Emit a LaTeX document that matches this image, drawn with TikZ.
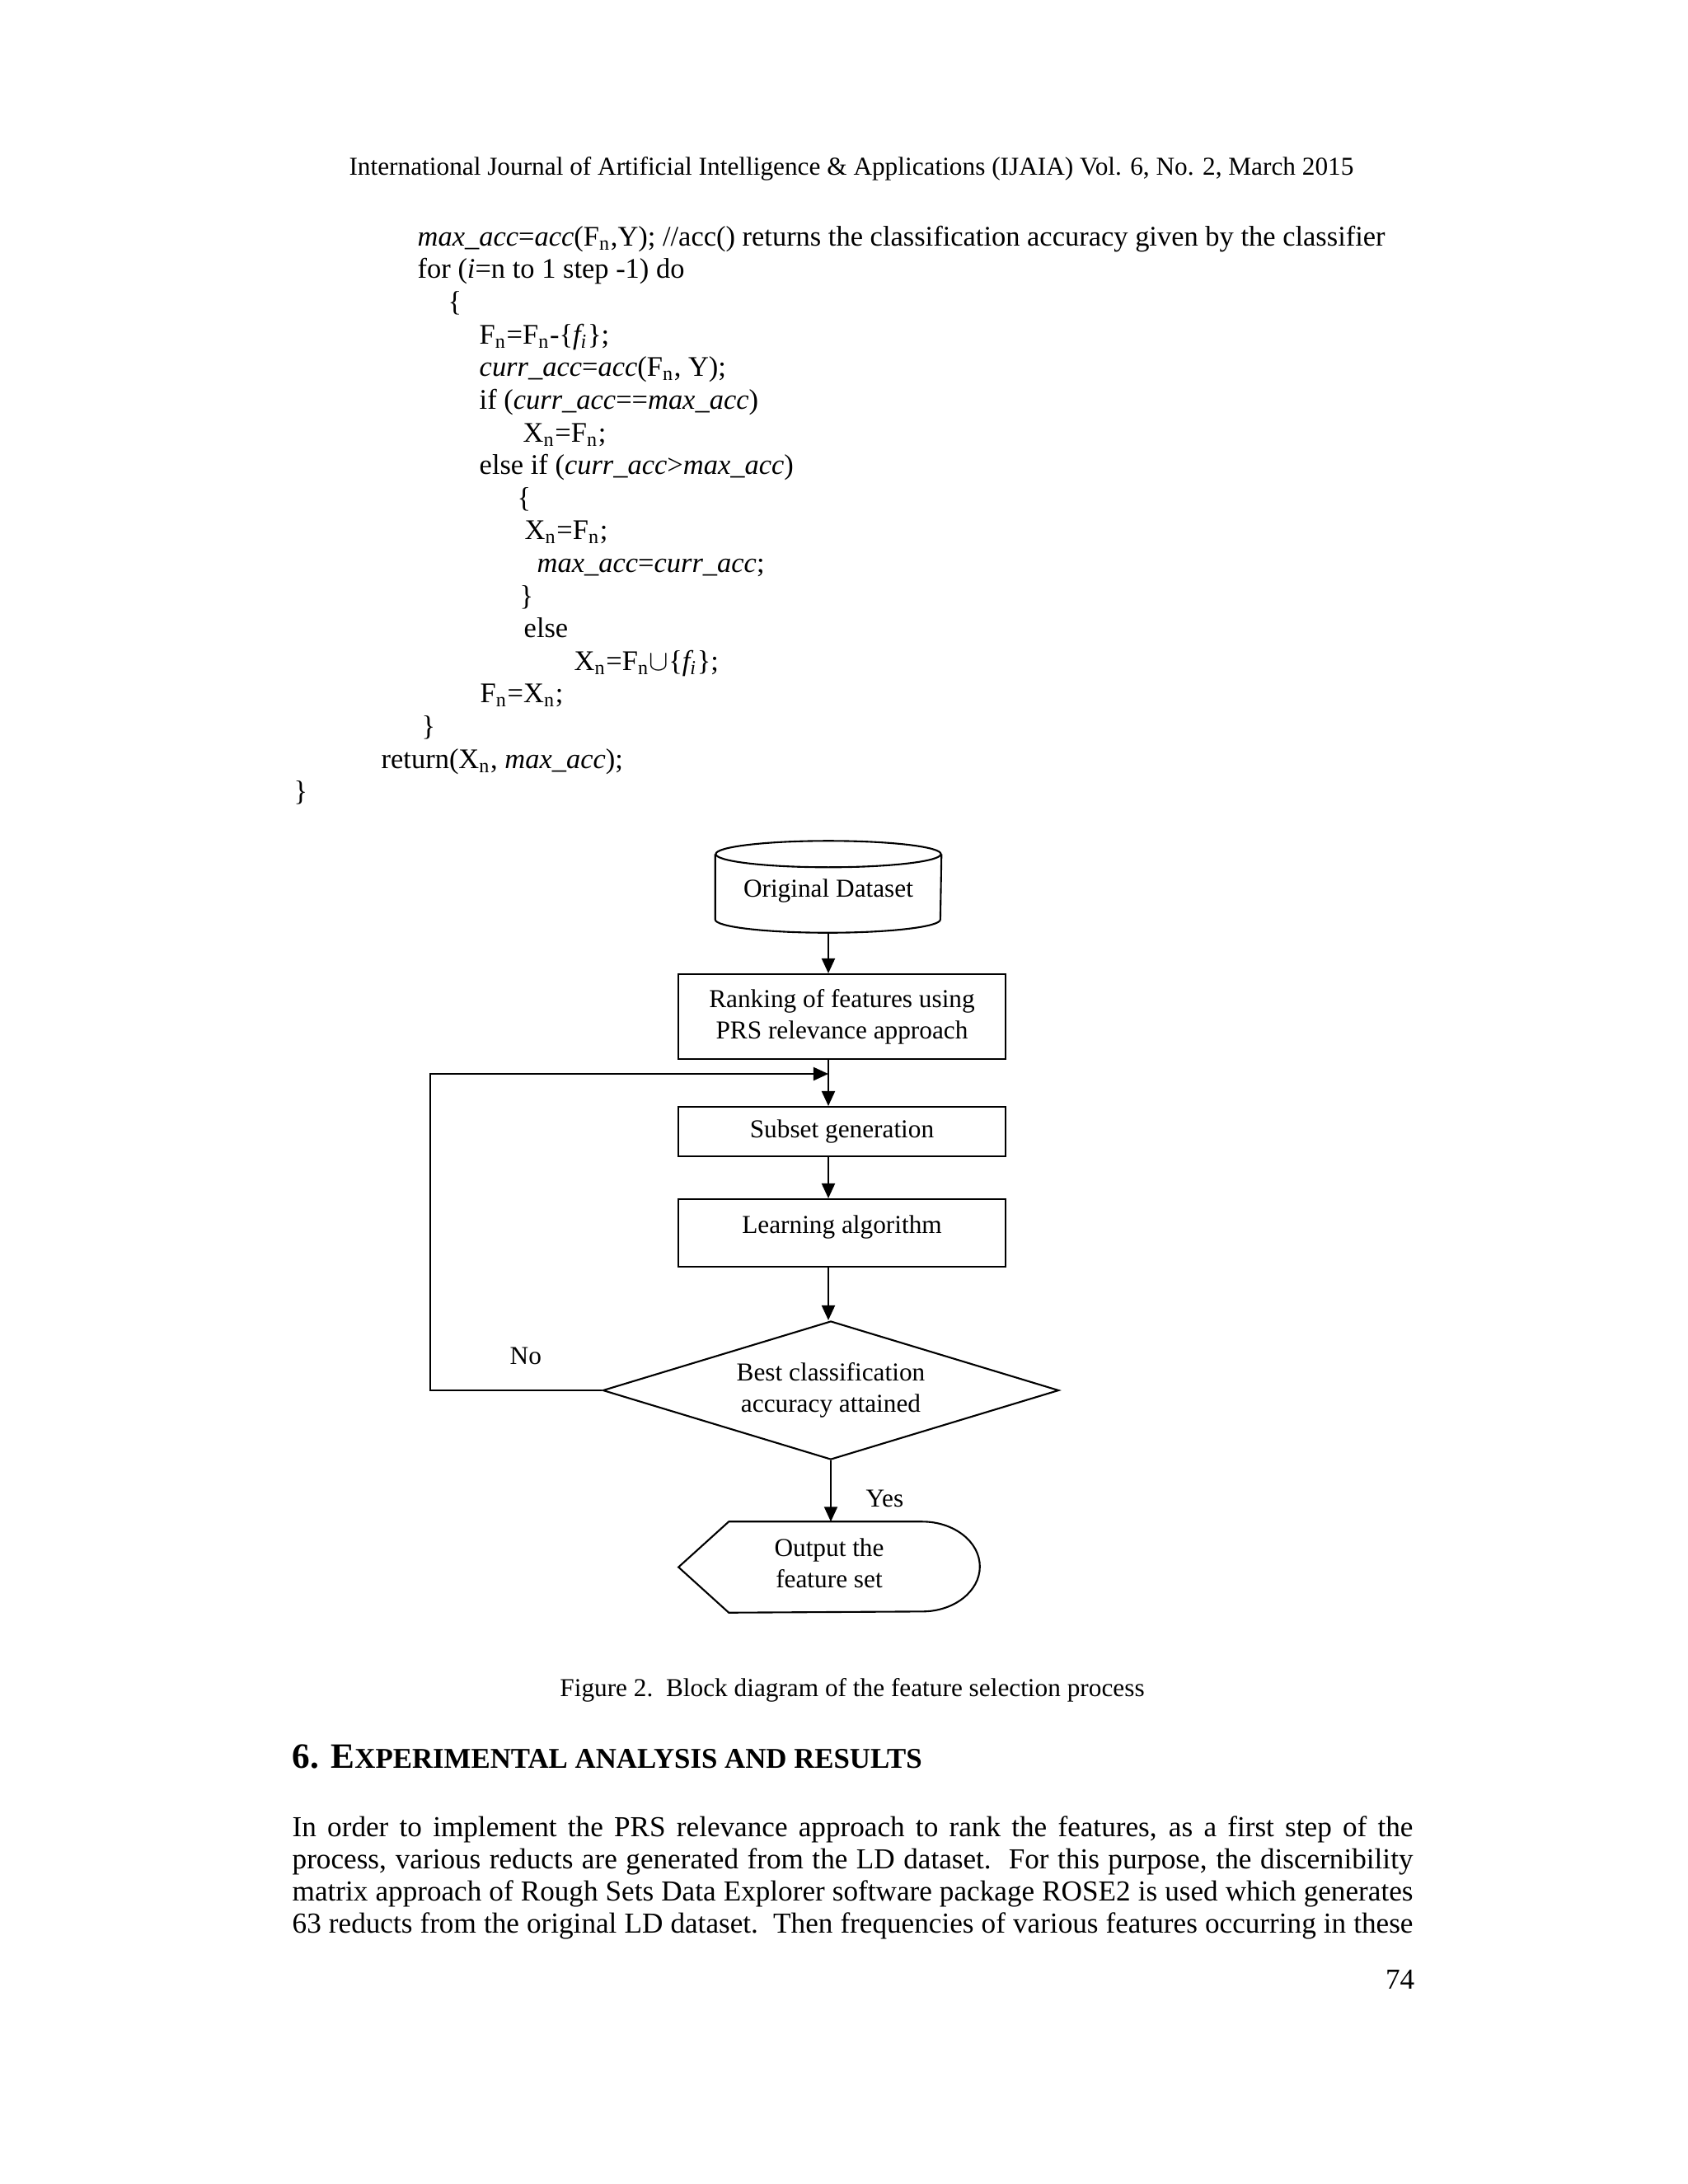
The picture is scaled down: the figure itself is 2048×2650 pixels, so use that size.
\documentclass[tikz,border=0pt]{standalone}
\usepackage{fontspec}
\setmainfont{Liberation Serif}
\usetikzlibrary{shapes.geometric,arrows.meta,positioning}

\newcommand{\flowfont}{\fontsize{8.9}{10.7}\selectfont}
\newcommand{\codefont}{\fontsize{9.8}{11}\selectfont}
\newcommand{\Fn}{F\textsubscript{n}}
\newcommand{\Xn}{X\textsubscript{n}}
\newcommand{\fsub}{\textit{f\textsubscript{i}}}

\tikzset{
  block/.style={draw, line width=0.6pt, minimum width=3.97cm, align=center, font=\flowfont},
  arr/.style={-{Triangle[length=0.18cm,width=0.16cm]}, line width=0.6pt},
  code/.style={anchor=base west, inner sep=0pt, font=\codefont},
  body/.style={anchor=base west, inner sep=0pt, font=\fontsize{10}{11}\selectfont},
}

\begin{document}
\begin{tikzpicture}[x=0.01cm, y=-0.01cm]
    \useasboundingbox (0,0) rectangle (2048,2650);
    \node[anchor=base, inner sep=0pt, font=\fontsize{8.9}{10}\selectfont] (head) at (1033,212)
        {International Journal of Artificial Intelligence \& Applications (IJAIA) Vol. 6, No. 2, March 2015};

    % pseudo code
    \node[code] (c0) at (506,298) {\textit{max\_acc}=\textit{acc}(\Fn,Y); //acc() returns the classification accuracy given by the classifier};
    \node[code] (c1) at (506,337) {for (\textit{i}=n to 1 step -1) do};
    \node[code] (c2) at (543,377) {\{};
    \node[code] (c3) at (581,417) {\Fn=\Fn-\{\fsub\};};
    \node[code] (c4) at (581,456) {\textit{curr\_acc}=\textit{acc}(\Fn, Y);};
    \node[code] (c5) at (581,496) {if (\textit{curr\_acc}==\textit{max\_acc})};
    \node[code] (c6) at (634,536) {\Xn=\Fn;};
    \node[code] (c7) at (581,575) {else if (\textit{curr\_acc}>\textit{max\_acc})};
    \node[code] (c8) at (627,615) {\{};
    \node[code] (c9) at (636,654) {\Xn=\Fn;};
    \node[code] (c10) at (651,694) {\textit{max\_acc}=\textit{curr\_acc};};
    \node[code] (c11) at (630,734) {\}};
    \node[code] (c12) at (635,773) {else};
    \node[code] (c13) at (696,813) {\Xn=\Fn$\cup$\{\fsub\};};
    \node[code] (c14) at (582,852) {\Fn=\Xn;};
    \node[code] (c15) at (511,892) {\}};
    \node[code] (c16) at (462,932) {return(\Xn, \textit{max\_acc});};
    \node[code] (c17) at (356,971) {\}};

    % flowchart
    \node[minimum width=2.73cm, minimum height=0.78cm, inner sep=0pt, text height=0.32cm, font=\flowfont] (data) at (1005,1076) {Original Dataset};
    \draw[line width=0.6pt] (data.north west) -- (data.south west)
        arc[start angle=180, end angle=360, x radius=1.365cm, y radius=0.16cm] -- (data.north east);
    \draw[line width=0.6pt] (data.north) ellipse [x radius=1.365cm, y radius=0.16cm];
    \node[block, minimum height=1.03cm] (rank) at (1021.5,1233.5) {Ranking of features using\\PRS relevance approach};
    \node[block, minimum height=0.6cm] (subset) at (1021.5,1373) {Subset generation};
    \node[block, minimum height=0.82cm, text depth=0.2cm] (learn) at (1021.5,1496) {Learning algorithm};
    \node[diamond, draw, line width=0.6pt, aspect=3.3, inner sep=0pt, minimum width=5.53cm,
        minimum height=1.68cm, align=center, font=\flowfont] (dec) at (1008,1687) {Best classification\\accuracy attained};
    \node[minimum width=3.64cm, minimum height=1.09cm, inner sep=0pt, align=center, font=\flowfont] (out) at (1006,1901.5)
        {Output the\\feature set\\[-0.28cm]};
    \draw[line width=0.6pt] (out.west) -- ([xshift=0.61cm]out.north west) -- ([xshift=-0.7cm]out.north east)
        arc[start angle=90, end angle=-90, x radius=0.7cm, y radius=0.545cm] -- ([xshift=0.61cm]out.south west) -- cycle;

    \coordinate (join) at (1005,1303);
    \coordinate (turn) at (522,1303);
    \draw[arr] ([yshift=-0.16cm]data.south) -- (rank.north -| data);
    \draw[arr] (rank.south -| data) -- (subset.north -| data);
    \draw[arr] (subset.south -| data) -- (learn.north -| data);
    \draw[arr] (learn.south -| data) -- (dec.north -| data);
    \draw[arr] (dec.west) -| (turn) -- (join);
    \draw[arr] (dec.south) -- (out.north -| dec);
    \node[anchor=base west, inner sep=0pt, font=\flowfont] (no) at (618,1655) {No};
    \node[anchor=base west, inner sep=0pt, font=\flowfont] (yes) at (1050,1828) {Yes};

    \node[anchor=base, inner sep=0pt, font=\fontsize{8.9}{10}\selectfont] (cap) at (1034,2058)
        {Figure 2.\ \ Block diagram of the feature selection process};

    % section and text
    \node[anchor=base west, inner sep=0pt, font=\bfseries] (sec) at (354,2145)
        {\fontsize{12.3}{14}\selectfont 6. E\fontsize{9.9}{14}\selectfont XPERIMENTAL ANALYSIS AND RESULTS};
    \node[body] (p1) at (354,2228) {\makebox[13.59cm][s]{In order to implement the PRS relevance approach to rank the features, as a first step of the}};
    \node[body] (p2) at (354,2267) {\makebox[13.59cm][s]{process, various reducts are generated from the LD dataset.\ \ For this purpose, the discernibility}};
    \node[body] (p3) at (354,2306) {\makebox[13.59cm][s]{matrix approach of Rough Sets Data Explorer software package ROSE2 is used which generates}};
    \node[body] (p4) at (354,2345) {\makebox[13.59cm][s]{63 reducts from the original LD dataset.\ \ Then frequencies of various features occurring in these}};
    \node[anchor=base east, inner sep=0pt, font=\fontsize{10}{11}\selectfont] (page) at (1717,2413) {74};
\end{tikzpicture}
\end{document}
